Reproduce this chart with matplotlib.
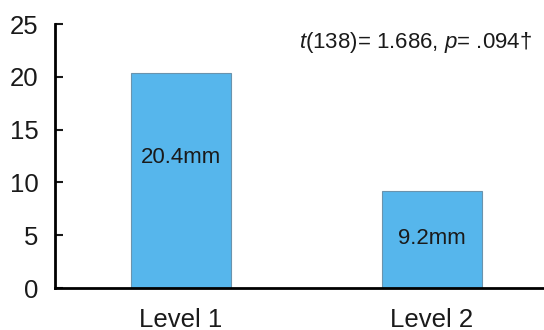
import numpy as np
import matplotlib.pyplot as plt

plt.rcParams['font.family'] = ['Liberation Sans', 'DejaVu Sans']
plt.rcParams['mathtext.fontset'] = 'custom'
plt.rcParams['mathtext.rm'] = 'Liberation Sans'
plt.rcParams['mathtext.it'] = 'Liberation Sans:italic'

# Data
levels = ['Level 1', 'Level 2']
values = [20.4, 9.2]
value_labels = ['20.4mm', '9.2mm']
stat_text = r'$\it{t}$(138)= 1.686, $\it{p}$= .094†'

fig = plt.figure(figsize=(5.44, 3.30), dpi=100)
ax = fig.add_axes([0.101, 0.127, 0.899, 0.80])

x = np.arange(len(levels))
ax.bar(x, values, width=0.4, color='#56b6ec', edgecolor='#6a93ad', linewidth=0.8)

# labels inside bars
label_y = [12.4, 4.7]
for xi, lab, ly in zip(x, value_labels, label_y):
    ax.text(xi, ly, lab, ha='center', va='center', fontsize=16, color='#1a1a1a')

ax.text(0.935, 23.3, stat_text, ha='center', va='center', fontsize=16,
        color='#1a1a1a')

ax.set_xlim(-0.502, 1.446)
ax.set_ylim(0, 25)
ax.set_yticks([0, 5, 10, 15, 20, 25])
ax.set_xticks(x)
ax.set_xticklabels(levels)

for s in ['top', 'right']:
    ax.spines[s].set_visible(False)
ax.spines['left'].set_linewidth(2)
ax.spines['bottom'].set_linewidth(2)

ax.tick_params(axis='y', direction='in', length=6, width=1.5, pad=12,
               labelsize=18.5, colors='#1a1a1a')
ax.tick_params(axis='x', length=0, pad=14, labelsize=18.5, colors='#1a1a1a')

fig.savefig('out.png', dpi=100)
